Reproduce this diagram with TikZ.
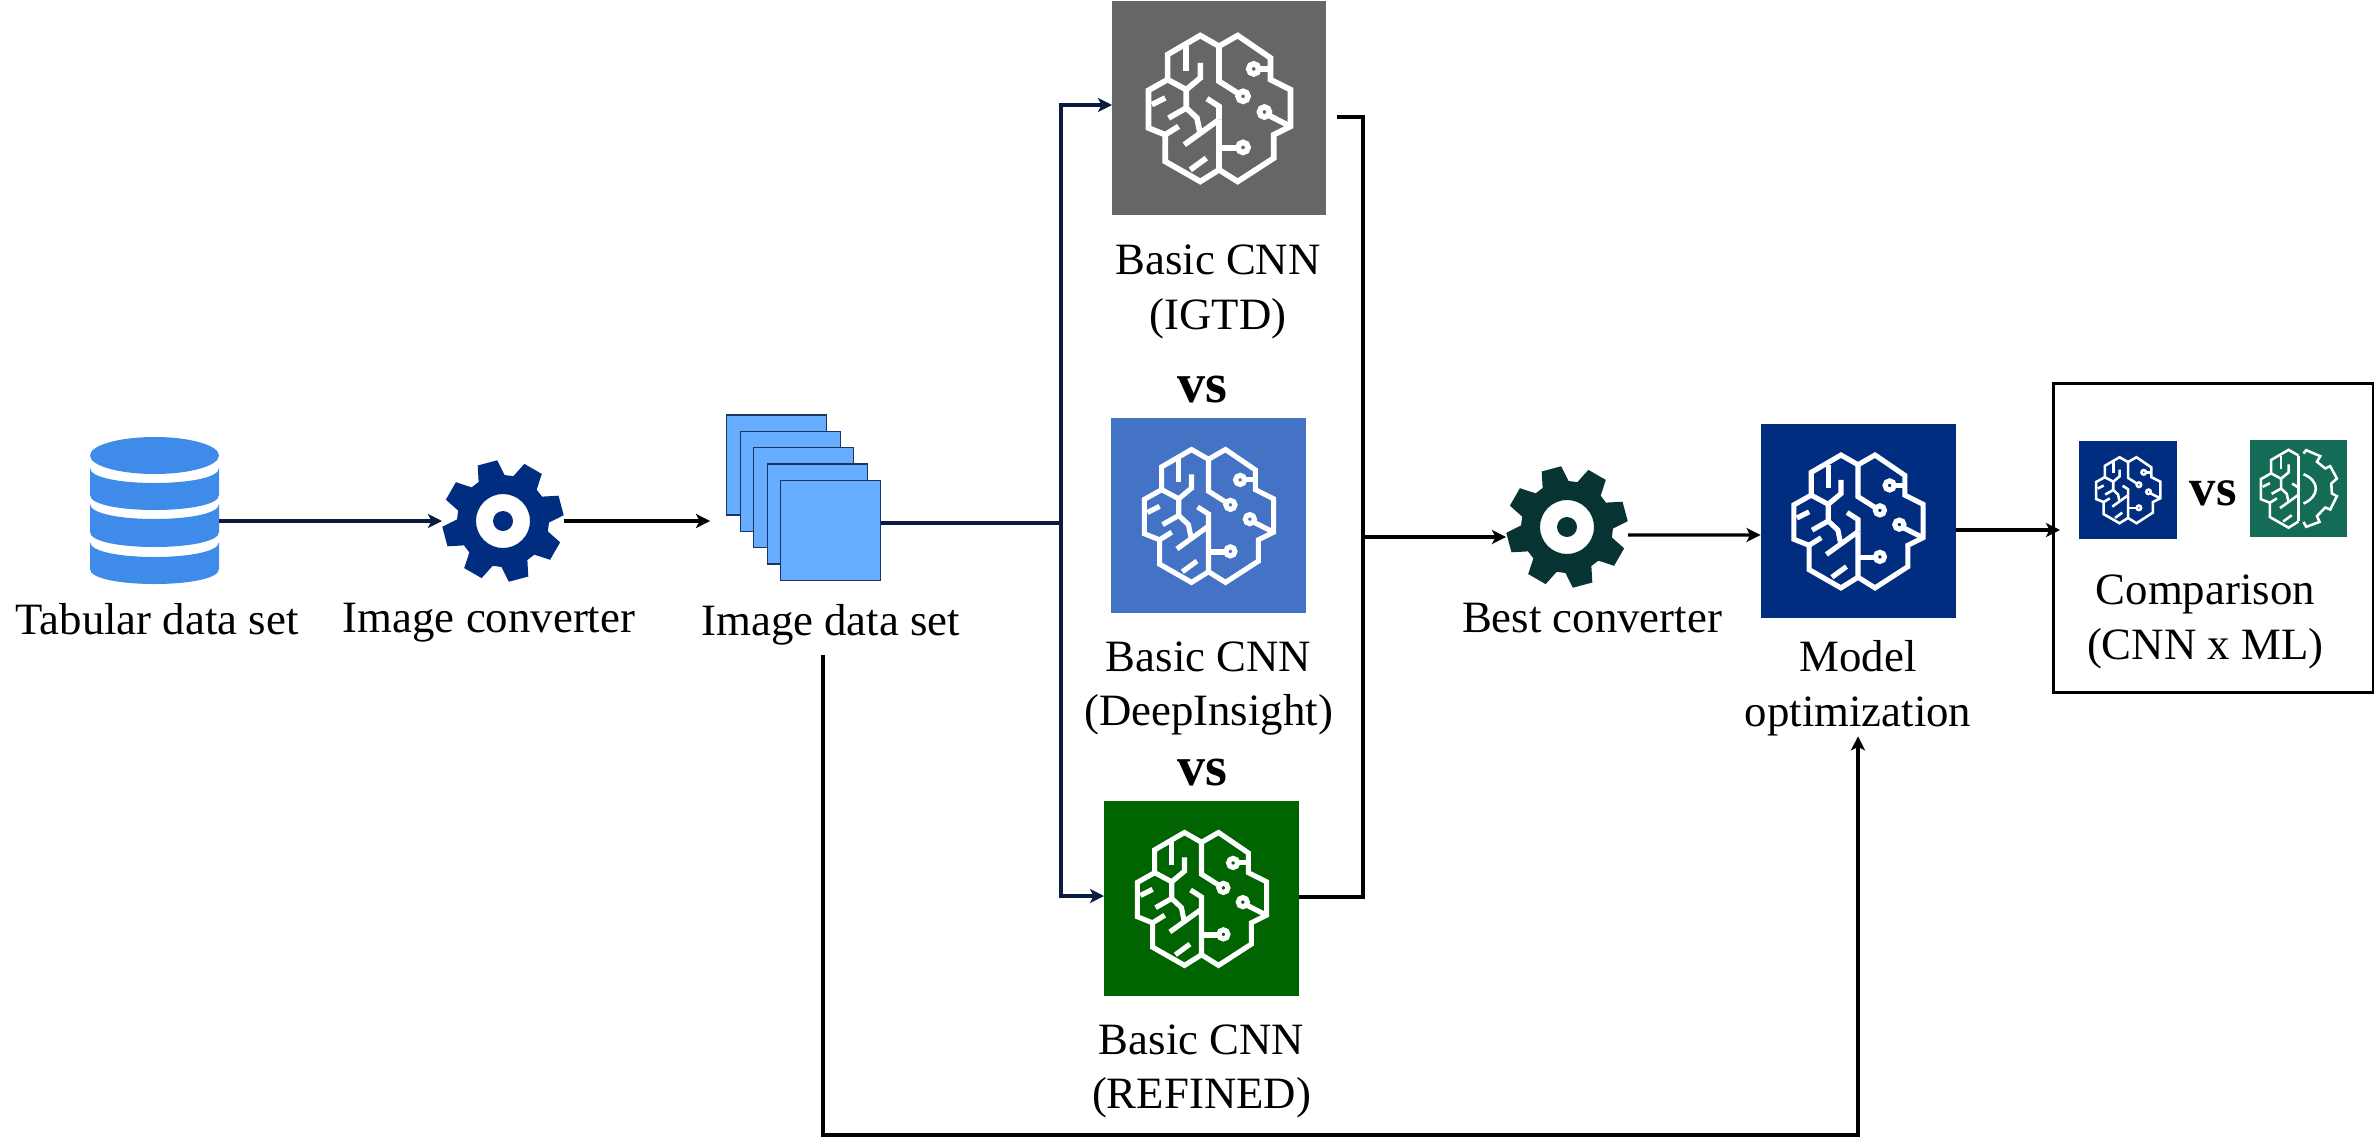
\documentclass[tikz,border=0pt]{standalone}
\usepackage{fontspec}
\setmainfont{Liberation Serif}
\usepackage{xcolor}
\usepackage{tikz}
\usetikzlibrary{positioning,arrows.meta,calc}
\definecolor{dbblue}{HTML}{3F8BEA}
\definecolor{stackblue}{HTML}{66ADFF}
\definecolor{stackline}{HTML}{1A3560}
\definecolor{convnavy}{HTML}{002D80}
\definecolor{linenavy}{HTML}{0A1A40}
\definecolor{bestteal}{HTML}{083333}
\definecolor{cnngray}{HTML}{666666}
\definecolor{cnnblue}{HTML}{4472C4}
\definecolor{cnngreen}{HTML}{006400}
\definecolor{mlgreen}{HTML}{146C57}
\newcommand{\brainleftlines}{
    \draw[white] (0,-185) -- (-56,-217) -- (-154,-160) -- (-154,-85) -- (-211,-53) -- (-211,60)
        -- (-161,80) -- (-161,160) -- (-56,220) -- (0,185);
    \draw[white] (-98,-185) -- (-98,-110);
    \draw[white] (-56,-135) -- (-56,-90) -- (-98,-55) -- (-154,-85);
    \draw[white] (-98,-55) -- (-98,0) -- (-66,30) -- (-58,70);
    \draw[white] (-98,0) -- (-151,30);
    \draw[white] (-36,-28) -- (0,-5) -- (0,35);
    \draw[white] (0,35) -- (-104,110);
    \draw[white] (-201,-10) -- (-161,-30);
    \draw[white] (-161,80) -- (-121,55);
    \draw[white] (-86,185) -- (-38,150);
}

\begin{document}
\begin{tikzpicture}[
    x=0.02cm, y=-0.02cm,
    labeltext/.style={inner sep=0pt, align=center, font=\fontsize{25.5}{31}\selectfont},
    vstext/.style={inner sep=0pt, font=\fontsize{32}{36}\selectfont\bfseries},
    iconbox/.style={rectangle, inner sep=0pt, outer sep=0pt, minimum size=3.9cm},
    gearnode/.style={circle, inner sep=0pt, outer sep=0pt, minimum size=2.44cm},
    sheet/.style={rectangle, fill=stackblue, draw=stackline, line width=0.7pt, inner sep=0pt, minimum size=2cm},
    arrow/.style={-{Stealth[length=8pt,width=8pt,inset=2pt]}, line width=1.9pt},
    navyarrow/.style={arrow, draw=linenavy, color=linenavy},
    wire/.style={line width=1.9pt},
    bigbrain/.style={scale=0.304, line width=2.9pt},
    smallbrain/.style={scale=0.151, line width=1.45pt},
    brainicon/.pic={
        \brainleftlines
        \draw[white] (0,-185) -- (56,-217) -- (154,-150) -- (154,-85) -- (214,-55) -- (214,55)
            -- (164,80) -- (164,150) -- (56,220) -- (0,185) -- (0,35);
        \draw[white] (0,-185) -- (0,-80) -- (60,-42);
        \draw[white] (72,-35) circle (15);
        \draw[white] (0,120) -- (57,120);
        \draw[white] (72,118) circle (15);
        \draw[white] (154,-117) -- (119,-117);
        \draw[white] (104,-117) circle (15);
        \draw[white] (214,55) -- (149,22);
        \draw[white] (136,12) circle (15);
    },
    mlicon/.pic={
        \begin{scope}[scale=1.18]
            \brainleftlines
        \end{scope}
        \draw[white] (0,-218) -- (0,218);
        \draw[white] (33,-232) -- (51,-254) -- (144,-214) -- (122,-177) -- (177,-133) -- (210,-148)
            -- (254,-66) -- (217,-33) -- (221,33) -- (254,51) -- (210,139) -- (177,126)
            -- (122,183) -- (139,221) -- (51,254) -- (33,221);
        \draw[white] (33,-95) .. controls (142,-50) and (142,50) .. (33,100);
    },
    gearicon/.pic={
        \path[pic actions, even odd rule] (13:46)
            \foreach \toothang in {30,75,120,165,210,255,300,345} {
                -- ({\toothang-17}:46) -- ({\toothang-9.5}:61) -- ({\toothang+9.5}:61) -- ({\toothang+17}:46)
            } -- cycle (0,0) circle (27) (0,0) circle (10);
    },
    dbicon/.pic={
        \fill[dbblue] (0,-55) ellipse (64.5 and 18.5);
        \foreach \dbtop/\dbbot in {-42.5/-15.5,-6.5/21.5,31.5/58.5} {
            \fill[dbblue] (-64.5,\dbtop) .. controls (-64.5,\dbtop+20) and (64.5,\dbtop+20) .. (64.5,\dbtop)
                -- (64.5,\dbbot) .. controls (64.5,\dbbot+20) and (-64.5,\dbbot+20) .. (-64.5,\dbbot) -- cycle;
        }
    }
]
    \useasboundingbox (0,0) rectangle (2376,1146);

    % input side
    \node[rectangle, inner sep=0pt, outer sep=0pt, minimum width=2.58cm, minimum height=2.94cm] (tabular) at (154.5,510.5) {};
    \pic at (tabular) {dbicon};
    \node[labeltext, below=0.38cm of tabular, xshift=0.05cm] (tabularlabel) {Tabular data set};

    \node[gearnode] (conv) at (503,521) {};
    \pic[fill=convnavy] at (conv) {gearicon};
    \node[labeltext, below=0.42cm of conv, xshift=-0.28cm] (convlabel) {Image converter};

    \node[sheet] (img1) at (776.7,465) {};
    \node[sheet, below right=0.326cm and 0.27cm of img1.north west, anchor=north west] (img2) {};
    \node[sheet, below right=0.326cm and 0.27cm of img2.north west, anchor=north west] (img3) {};
    \node[sheet, below right=0.326cm and 0.27cm of img3.north west, anchor=north west] (img4) {};
    \node[sheet, below right=0.326cm and 0.27cm of img4.north west, anchor=north west] (img5) {};
    \node[labeltext, below=0.46cm of img5] (imglabel) {Image data set};

    % the three CNNs
    \node[iconbox, fill=cnngray, minimum size=4.28cm] (igtd) at (1219,108) {};
    \pic[scale=0.334, line width=3.2pt] at (igtd) {brainicon};
    \node[labeltext, below=0.6cm of igtd, xshift=-0.02cm] (igtdlabel) {Basic CNN\\(IGTD)};
    \node[vstext, below=0.72cm of igtdlabel, xshift=-0.32cm] (vsone) {vs};

    \node[iconbox, fill=cnnblue] (deep) at (1208.5,515.5) {};
    \pic[bigbrain] at (deep) {brainicon};
    \node[labeltext, below=0.56cm of deep] (deeplabel) {Basic CNN\\(DeepInsight)};
    \node[vstext, below=0.46cm of deeplabel, xshift=-0.12cm] (vstwo) {vs};

    \node[iconbox, fill=cnngreen] (refined) at (1201.5,898.5) {};
    \pic[bigbrain] at (refined) {brainicon};
    \node[labeltext, below=0.56cm of refined] (refinedlabel) {Basic CNN\\(REFINED)};

    % output side
    \node[gearnode] (best) at (1567,527) {};
    \pic[fill=bestteal] at (best) {gearicon};
    \node[labeltext, below=0.3cm of best, xshift=0.5cm] (bestlabel) {Best converter};

    \node[iconbox, fill=convnavy] (model) at (1858,521) {};
    \pic[bigbrain] at (model) {brainicon};
    \node[labeltext, below=0.44cm of model] (modellabel) {Model\\optimization};

    \node[rectangle, draw=black, line width=1.7pt, inner sep=0pt, minimum width=6.4cm, minimum height=6.2cm] (cmpbox) at (2213,538) {};
    \node[iconbox, fill=convnavy, minimum size=1.95cm] (cmpcnn) at (2128,490) {};
    \pic[smallbrain] at (cmpcnn) {brainicon};
    \node[iconbox, fill=mlgreen, minimum size=1.94cm] (cmpml) at (2298.5,488.5) {};
    \pic[smallbrain] at (cmpml) {mlicon};
    \node[vstext, font=\fontsize{30}{34}\selectfont\bfseries, yshift=-0.09cm] (cmpvs) at ($(cmpcnn)!0.5!(cmpml)$) {vs};
    \node[labeltext, below=1.36cm of cmpvs, xshift=-0.16cm] (cmplabel) {Comparison\\(CNN x ML)};

    \coordinate (split) at (1061,523);
    \coordinate (merge) at (1363,537);
    \coordinate (cmpin) at (2060,530);
    \coordinate (retcorner) at (823,1135);

    \draw[navyarrow] (tabular.east |- conv.west) -- (conv.west);
    \draw[arrow, shorten >=0.32cm] (conv.east) -- (img1.west |- conv.east);
    \draw[wire, draw=linenavy] (img5.east |- split) -- (split);
    \draw[navyarrow] (split) |- ([yshift=0.06cm]igtd.west);
    \draw[navyarrow] (split) |- ([yshift=0.05cm]refined.west);
    \draw[wire] ([xshift=0.22cm,yshift=-0.18cm]igtd.east) -| (merge);
    \draw[wire] ([yshift=0.03cm]refined.east) -| (merge);
    \draw[arrow] (merge) -- (merge -| best.west);
    \draw[arrow] ([yshift=-0.16cm]best.east) -- ([yshift=-0.28cm]model.west);
    \draw[arrow] (model.east |- cmpin) -- (cmpin);
    \draw[arrow, shorten <=0.2cm] (retcorner |- imglabel.south) -- (retcorner) -| (modellabel.south);
\end{tikzpicture}
\end{document}
